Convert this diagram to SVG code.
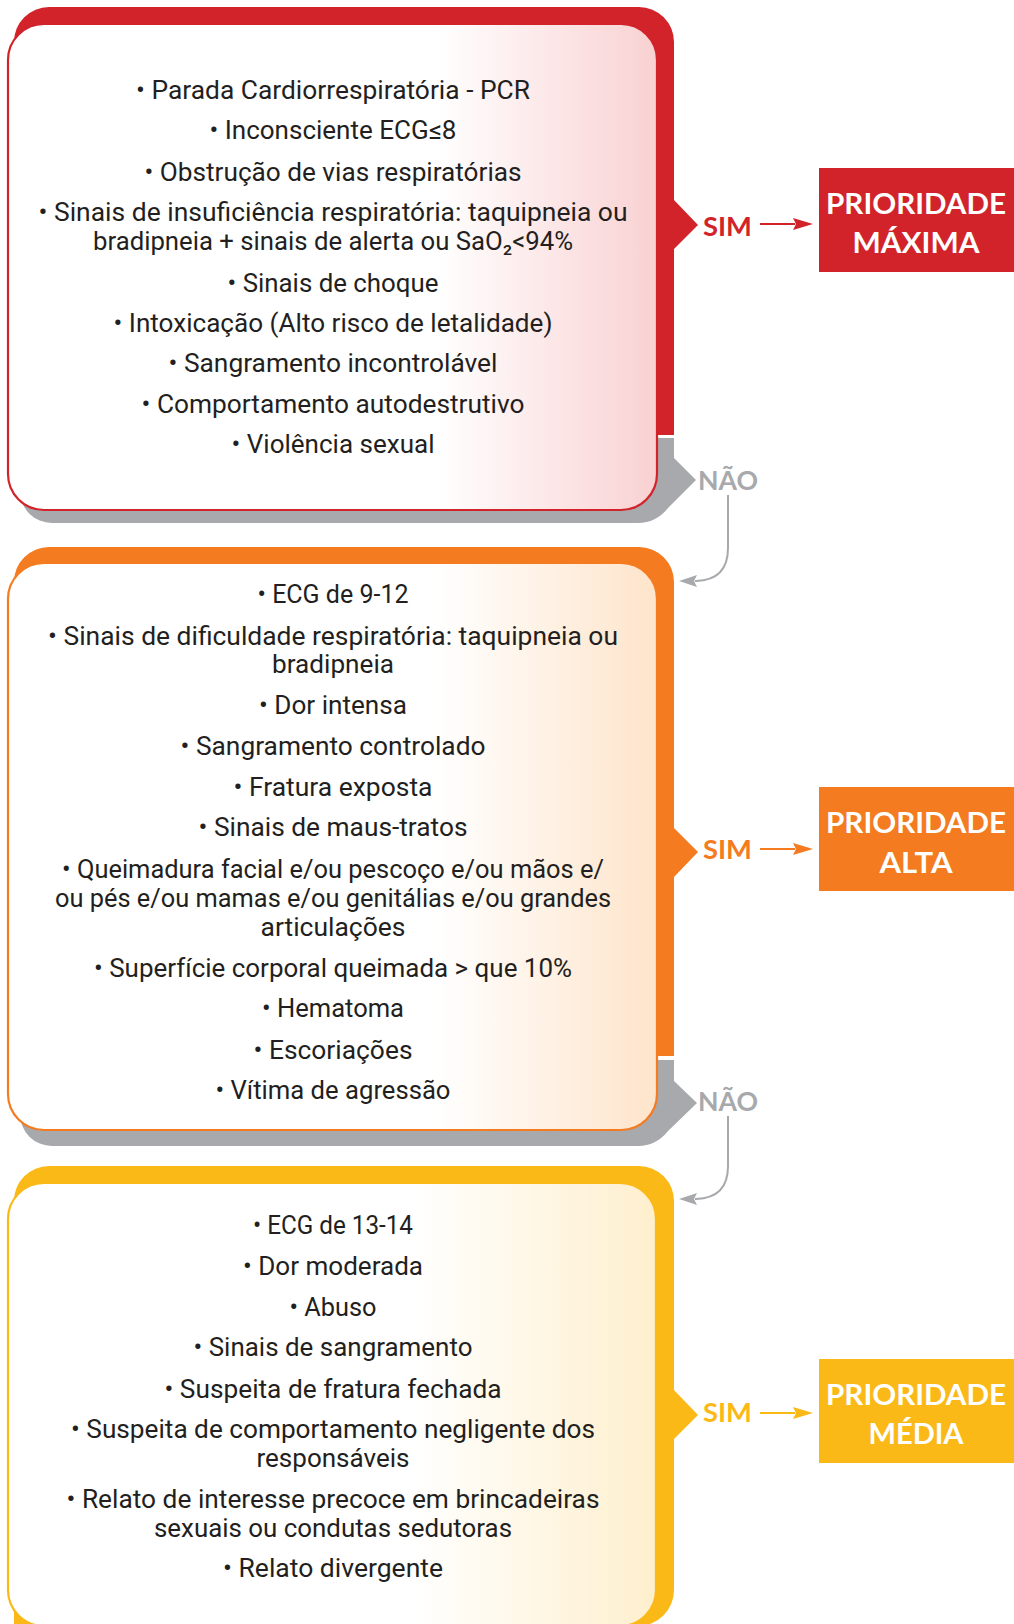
<svg xmlns="http://www.w3.org/2000/svg" width="1014" height="1624" viewBox="0 0 1014 1624">
<style>
.t{font-family:Roboto,"Liberation Sans",sans-serif;font-size:26px;fill:#231F20;text-anchor:middle}
.lbl{font-family:Lato,"Open Sans","Liberation Sans",sans-serif;font-weight:bold;font-size:27px}
.pri{font-family:Lato,"Open Sans","Liberation Sans",sans-serif;font-weight:bold;font-size:29px;fill:#FFFFFF;text-anchor:middle}
.gray{fill:#A7A9AC}
</style>
<defs>
<linearGradient id="gR" x1="0" y1="0" x2="1" y2="0"><stop offset="0" stop-color="#FFFFFF"/><stop offset="0.66" stop-color="#FFFFFF"/><stop offset="1" stop-color="#F9D1D2"/></linearGradient>
<linearGradient id="gO" x1="0" y1="0" x2="1" y2="0"><stop offset="0" stop-color="#FFFFFF"/><stop offset="0.66" stop-color="#FFFFFF"/><stop offset="1" stop-color="#FEE4CA"/></linearGradient>
<linearGradient id="gY" x1="0" y1="0" x2="1" y2="0"><stop offset="0" stop-color="#FFFFFF"/><stop offset="0.62" stop-color="#FFFFFF"/><stop offset="1" stop-color="#FEEFCD"/></linearGradient>
<marker id="aR" markerUnits="userSpaceOnUse" markerWidth="20" markerHeight="12" viewBox="0 0 20 12" refX="2" refY="6" orient="auto"><path d="M0,0 L20,6 L0,12 L3,6 Z" fill="#D2232A"/></marker>
<marker id="aO" markerUnits="userSpaceOnUse" markerWidth="20" markerHeight="12" viewBox="0 0 20 12" refX="2" refY="6" orient="auto"><path d="M0,0 L20,6 L0,12 L3,6 Z" fill="#F47B20"/></marker>
<marker id="aY" markerUnits="userSpaceOnUse" markerWidth="20" markerHeight="12" viewBox="0 0 20 12" refX="2" refY="6" orient="auto"><path d="M0,0 L20,6 L0,12 L3,6 Z" fill="#FBB918"/></marker>
<marker id="aG" markerUnits="userSpaceOnUse" markerWidth="18" markerHeight="12" viewBox="0 0 18 12" refX="2" refY="6" orient="auto"><path d="M0,0 L18,6 L0,12 L3,6 Z" fill="#A7A9AC"/></marker>
</defs>

<!-- Box 1: red -->
<g id="node-maxima-criteria">
<path class="gray" d="M20,438 H674 V458 L696,480 L668,508 Q656,523 638,523 H52 A32,32 0 0 1 20,491 Z"/>
<path fill="#D2232A" d="M14,42 A35,35 0 0 1 49,7 H639 A35,35 0 0 1 674,42 V200 L698,225 L674,249 V435 H14 Z"/>
<rect x="8" y="24" width="649" height="486" rx="36" ry="36" fill="url(#gR)" stroke="#D2232A" stroke-width="2.2"/>
<text class="t" x="333" y="99" textLength="394" lengthAdjust="spacingAndGlyphs">• Parada Cardiorrespiratória - PCR</text>
<text class="t" x="333" y="139" textLength="247" lengthAdjust="spacingAndGlyphs">• Inconsciente ECG≤8</text>
<text class="t" x="333" y="181" textLength="377" lengthAdjust="spacingAndGlyphs">• Obstrução de vias respiratórias</text>
<text class="t" x="333" y="221" textLength="589" lengthAdjust="spacingAndGlyphs">• Sinais de insuficiência respiratória: taquipneia ou</text>
<text class="t" x="333" y="250" textLength="480" lengthAdjust="spacingAndGlyphs">bradipneia + sinais de alerta ou SaO₂&lt;94%</text>
<text class="t" x="333" y="292" textLength="211" lengthAdjust="spacingAndGlyphs">• Sinais de choque</text>
<text class="t" x="333" y="332" textLength="439" lengthAdjust="spacingAndGlyphs">• Intoxicação (Alto risco de letalidade)</text>
<text class="t" x="333" y="372" textLength="329" lengthAdjust="spacingAndGlyphs">• Sangramento incontrolável</text>
<text class="t" x="333" y="413" textLength="383" lengthAdjust="spacingAndGlyphs">• Comportamento autodestrutivo</text>
<text class="t" x="333" y="453" textLength="203" lengthAdjust="spacingAndGlyphs">• Violência sexual</text>
</g>

<!-- Box 2: orange -->
<g id="node-alta-criteria">
<path class="gray" d="M20,1060 H674 V1081 L697,1103 L668,1131 Q656,1146 638,1146 H52 A32,32 0 0 1 20,1114 Z"/>
<path fill="#F47B20" d="M14,582 A35,35 0 0 1 49,547 H639 A35,35 0 0 1 674,582 V828 L698,852 L674,877 V1056 H14 Z"/>
<rect x="8" y="563" width="649" height="567" rx="36" ry="36" fill="url(#gO)" stroke="#F47B20" stroke-width="2.2"/>
<text class="t" x="333" y="603" textLength="151" lengthAdjust="spacingAndGlyphs">• ECG de 9-12</text>
<text class="t" x="333" y="645" textLength="570" lengthAdjust="spacingAndGlyphs">• Sinais de dificuldade respiratória: taquipneia ou</text>
<text class="t" x="333" y="673" textLength="122" lengthAdjust="spacingAndGlyphs">bradipneia</text>
<text class="t" x="333" y="714" textLength="148" lengthAdjust="spacingAndGlyphs">• Dor intensa</text>
<text class="t" x="333" y="755" textLength="305" lengthAdjust="spacingAndGlyphs">• Sangramento controlado</text>
<text class="t" x="333" y="796" textLength="199" lengthAdjust="spacingAndGlyphs">• Fratura exposta</text>
<text class="t" x="333" y="836" textLength="269" lengthAdjust="spacingAndGlyphs">• Sinais de maus-tratos</text>
<text class="t" x="333" y="878" textLength="542" lengthAdjust="spacingAndGlyphs">• Queimadura facial e/ou pescoço e/ou mãos e/</text>
<text class="t" x="333" y="907" textLength="556" lengthAdjust="spacingAndGlyphs">ou pés e/ou mamas e/ou genitálias e/ou grandes</text>
<text class="t" x="333" y="936" textLength="145" lengthAdjust="spacingAndGlyphs">articulações</text>
<text class="t" x="333" y="977" textLength="478" lengthAdjust="spacingAndGlyphs">• Superfície corporal queimada &gt; que 10%</text>
<text class="t" x="333" y="1017" textLength="142" lengthAdjust="spacingAndGlyphs">• Hematoma</text>
<text class="t" x="333" y="1059" textLength="159" lengthAdjust="spacingAndGlyphs">• Escoriações</text>
<text class="t" x="333" y="1099" textLength="235" lengthAdjust="spacingAndGlyphs">• Vítima de agressão</text>
</g>

<!-- Box 3: yellow -->
<g id="node-media-criteria">
<path fill="#FBB918" d="M14,1201 A35,35 0 0 1 49,1166 H639 A35,35 0 0 1 674,1201 V1390 L698,1415 L674,1439 V1590 A36,36 0 0 1 638,1626 H14 Z"/>
<rect x="8" y="1183" width="648" height="443" rx="36" ry="36" fill="url(#gY)" stroke="#FBB918" stroke-width="2.2"/>
<text class="t" x="333" y="1234" textLength="160" lengthAdjust="spacingAndGlyphs">• ECG de 13-14</text>
<text class="t" x="333" y="1275" textLength="180" lengthAdjust="spacingAndGlyphs">• Dor moderada</text>
<text class="t" x="333" y="1316" textLength="87" lengthAdjust="spacingAndGlyphs">• Abuso</text>
<text class="t" x="333" y="1356" textLength="279" lengthAdjust="spacingAndGlyphs">• Sinais de sangramento</text>
<text class="t" x="333" y="1398" textLength="337" lengthAdjust="spacingAndGlyphs">• Suspeita de fratura fechada</text>
<text class="t" x="333" y="1438" textLength="524" lengthAdjust="spacingAndGlyphs">• Suspeita de comportamento negligente dos</text>
<text class="t" x="333" y="1467" textLength="153" lengthAdjust="spacingAndGlyphs">responsáveis</text>
<text class="t" x="333" y="1508" textLength="533" lengthAdjust="spacingAndGlyphs">• Relato de interesse precoce em brincadeiras</text>
<text class="t" x="333" y="1537" textLength="358" lengthAdjust="spacingAndGlyphs">sexuais ou condutas sedutoras</text>
<text class="t" x="333" y="1577" textLength="220" lengthAdjust="spacingAndGlyphs">• Relato divergente</text>
</g>

<!-- Priority result nodes -->
<g id="node-prioridade-maxima">
<rect x="819" y="168" width="195" height="104" fill="#D2232A"/>
<text class="pri" x="916" y="214" textLength="180" lengthAdjust="spacingAndGlyphs">PRIORIDADE</text>
<text class="pri" x="916" y="253" textLength="127" lengthAdjust="spacingAndGlyphs">MÁXIMA</text>
</g>
<g id="node-prioridade-alta">
<rect x="819" y="787" width="195" height="104" fill="#F47B20"/>
<text class="pri" x="916" y="833" textLength="180" lengthAdjust="spacingAndGlyphs">PRIORIDADE</text>
<text class="pri" x="916" y="873" textLength="73" lengthAdjust="spacingAndGlyphs">ALTA</text>
</g>
<g id="node-prioridade-media">
<rect x="819" y="1359" width="195" height="104" fill="#FBB918"/>
<text class="pri" x="916" y="1405" textLength="180" lengthAdjust="spacingAndGlyphs">PRIORIDADE</text>
<text class="pri" x="916" y="1444" textLength="95" lengthAdjust="spacingAndGlyphs">MÉDIA</text>
</g>

<!-- Connectors -->
<g id="connectors" fill="none" stroke-width="2">
<text class="lbl" x="703" y="236" fill="#D2232A" stroke="none" textLength="49" lengthAdjust="spacingAndGlyphs">SIM</text>
<line x1="760" y1="224" x2="795" y2="224" stroke="#D2232A" marker-end="url(#aR)"/>
<text class="lbl" x="703" y="859" fill="#F47B20" stroke="none" textLength="49" lengthAdjust="spacingAndGlyphs">SIM</text>
<line x1="760" y1="849" x2="795" y2="849" stroke="#F47B20" marker-end="url(#aO)"/>
<text class="lbl" x="703" y="1422" fill="#FBB918" stroke="none" textLength="49" lengthAdjust="spacingAndGlyphs">SIM</text>
<line x1="760" y1="1413" x2="795" y2="1413" stroke="#FBB918" marker-end="url(#aY)"/>
<text class="lbl" x="698" y="490" fill="#A7A9AC" stroke="none" textLength="60" lengthAdjust="spacingAndGlyphs">NÃO</text>
<path d="M728,495 V548 Q728,580 696,581" stroke="#A7A9AC"/>
<path d="M696,581 L695,581" stroke="#A7A9AC" marker-end="url(#aG)"/>
<text class="lbl" x="698" y="1111" fill="#A7A9AC" stroke="none" textLength="60" lengthAdjust="spacingAndGlyphs">NÃO</text>
<path d="M728,1116 V1166 Q728,1198 696,1199" stroke="#A7A9AC"/>
<path d="M696,1199 L695,1199" stroke="#A7A9AC" marker-end="url(#aG)"/>
</g>
</svg>
